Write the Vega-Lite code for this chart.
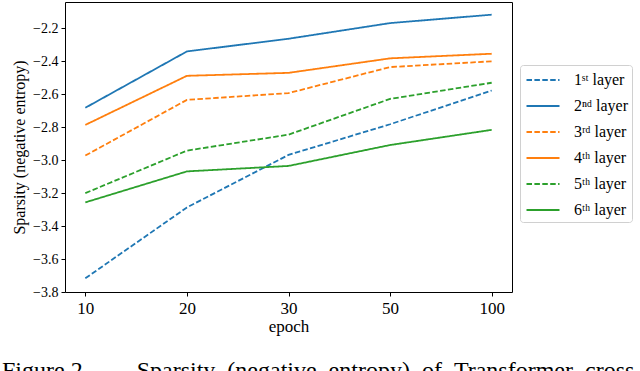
{
  "$schema": "https://vega.github.io/schema/vega-lite/v6.json",
  "autosize": {"type": "none"},
  "width": 447,
  "height": 290,
  "padding": {"left": 65, "top": 2, "right": 128, "bottom": 79},
  "background": "white",
  "config": {
    "font": "Liberation Serif",
    "view": {"stroke": "black", "strokeWidth": 1},
    "axis": {"grid": false, "domain": false, "tickColor": "black", "tickSize": 4, "labelColor": "black", "titleColor": "black", "labelFont": "Liberation Serif", "titleFont": "Liberation Serif", "titleFontWeight": "normal"},
    "legend": {"labelFont": "Liberation Serif", "labelFontSize": 16, "labelColor": "black"}
  },
  "title": {
    "text": "Figure 2.\u00a0\u00a0\u00a0\u00a0\u00a0\u00a0\u00a0\u00a0Sparsity\u00a0\u00a0(negative\u00a0\u00a0entropy)\u00a0\u00a0of\u00a0\u00a0Transformer\u00a0\u00a0cross",
    "orient": "bottom",
    "anchor": "start",
    "frame": "group",
    "dx": -63,
    "offset": 25,
    "font": "Liberation Serif",
    "fontSize": 24,
    "fontWeight": "normal",
    "color": "black"
  },
  "data": {
    "values": [
      {"epoch": "10", "layer": "1ˢᵗ layer", "v": -3.717},
      {"epoch": "20", "layer": "1ˢᵗ layer", "v": -3.287},
      {"epoch": "30", "layer": "1ˢᵗ layer", "v": -2.968},
      {"epoch": "50", "layer": "1ˢᵗ layer", "v": -2.782},
      {"epoch": "100", "layer": "1ˢᵗ layer", "v": -2.577},
      {"epoch": "10", "layer": "2ⁿᵈ layer", "v": -2.682},
      {"epoch": "20", "layer": "2ⁿᵈ layer", "v": -2.34},
      {"epoch": "30", "layer": "2ⁿᵈ layer", "v": -2.263},
      {"epoch": "50", "layer": "2ⁿᵈ layer", "v": -2.168},
      {"epoch": "100", "layer": "2ⁿᵈ layer", "v": -2.117},
      {"epoch": "10", "layer": "3ʳᵈ layer", "v": -2.972},
      {"epoch": "20", "layer": "3ʳᵈ layer", "v": -2.634},
      {"epoch": "30", "layer": "3ʳᵈ layer", "v": -2.593},
      {"epoch": "50", "layer": "3ʳᵈ layer", "v": -2.435},
      {"epoch": "100", "layer": "3ʳᵈ layer", "v": -2.40},
      {"epoch": "10", "layer": "4ᵗʰ layer", "v": -2.786},
      {"epoch": "20", "layer": "4ᵗʰ layer", "v": -2.488},
      {"epoch": "30", "layer": "4ᵗʰ layer", "v": -2.47},
      {"epoch": "50", "layer": "4ᵗʰ layer", "v": -2.382},
      {"epoch": "100", "layer": "4ᵗʰ layer", "v": -2.354},
      {"epoch": "10", "layer": "5ᵗʰ layer", "v": -3.20},
      {"epoch": "20", "layer": "5ᵗʰ layer", "v": -2.942},
      {"epoch": "30", "layer": "5ᵗʰ layer", "v": -2.845},
      {"epoch": "50", "layer": "5ᵗʰ layer", "v": -2.628},
      {"epoch": "100", "layer": "5ᵗʰ layer", "v": -2.53},
      {"epoch": "10", "layer": "6ᵗʰ layer", "v": -3.256},
      {"epoch": "20", "layer": "6ᵗʰ layer", "v": -3.068},
      {"epoch": "30", "layer": "6ᵗʰ layer", "v": -3.035},
      {"epoch": "50", "layer": "6ᵗʰ layer", "v": -2.908},
      {"epoch": "100", "layer": "6ᵗʰ layer", "v": -2.816}
    ]
  },
  "mark": {"type": "line", "strokeWidth": 1.8},
  "encoding": {
    "x": {
      "field": "epoch", "type": "ordinal", "sort": ["10", "20", "30", "50", "100"],
      "scale": {"type": "point", "padding": 0.2},
      "axis": {"labelAngle": 0, "title": "epoch", "labelFontSize": 17, "titleFontSize": 17, "labelPadding": 4, "titlePadding": 2}
    },
    "y": {
      "field": "v", "type": "quantitative",
      "scale": {"domain": [-3.8, -2.04], "nice": false, "zero": false},
      "axis": {"title": "Sparsity (negative entropy)", "labelFontSize": 14, "titleFontSize": 16, "values": [-3.8, -3.6, -3.4, -3.2, -3.0, -2.8, -2.6, -2.4, -2.2], "labelExpr": "replace(format(datum.value, '.1f'), '-', '−')", "labelPadding": 3, "titlePadding": 5}
    },
    "color": {
      "field": "layer", "type": "nominal",
      "scale": {"domain": ["1ˢᵗ layer", "2ⁿᵈ layer", "3ʳᵈ layer", "4ᵗʰ layer", "5ᵗʰ layer", "6ᵗʰ layer"], "range": ["#1f77b4", "#1f77b4", "#ff7f0e", "#ff7f0e", "#2ca02c", "#2ca02c"]},
      "legend": {
        "title": null, "orient": "none", "legendX": 455, "legendY": 63,
        "symbolType": "M-1.65,0H1.65", "symbolSize": 400, "symbolStrokeWidth": 2, "symbolOffset": 8,
        "labelFont": "Liberation Serif", "labelFontSize": 16, "labelColor": "black", "labelOffset": 20,
        "rowPadding": 7, "padding": 4, "strokeColor": "#d0d0d0", "fillColor": "white", "cornerRadius": 3
      }
    },
    "strokeDash": {
      "field": "layer", "type": "nominal",
      "scale": {"domain": ["1ˢᵗ layer", "2ⁿᵈ layer", "3ʳᵈ layer", "4ᵗʰ layer", "5ᵗʰ layer", "6ᵗʰ layer"], "range": [[5.5, 2.4], [1, 0], [5.5, 2.4], [1, 0], [5.5, 2.4], [1, 0]]},
      "legend": {
        "title": null, "orient": "none", "legendX": 455, "legendY": 63,
        "symbolType": "M-1.65,0H1.65", "symbolSize": 400, "symbolStrokeWidth": 2, "symbolOffset": 8,
        "labelFont": "Liberation Serif", "labelFontSize": 16, "labelColor": "black", "labelOffset": 20,
        "rowPadding": 7, "padding": 4, "strokeColor": "#d0d0d0", "fillColor": "white", "cornerRadius": 3
      }
    }
  }
}
